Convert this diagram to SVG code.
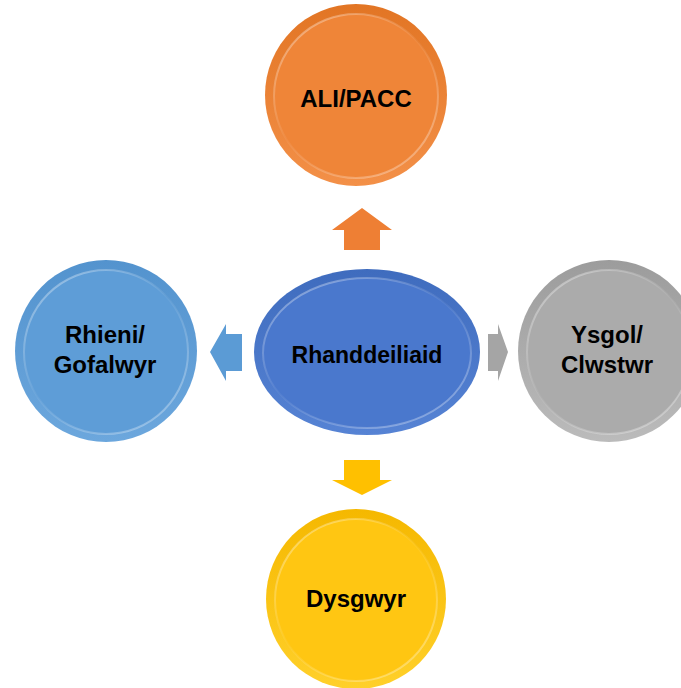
<svg xmlns="http://www.w3.org/2000/svg" width="681" height="688" viewBox="0 0 681 688">
<defs>
<linearGradient id="gO" x1="0" y1="0" x2="0" y2="1"><stop offset="0" stop-color="#E27524"/><stop offset="1" stop-color="#F39048"/></linearGradient>
<linearGradient id="gB" x1="0" y1="0" x2="0" y2="1"><stop offset="0" stop-color="#3F6CBE"/><stop offset="1" stop-color="#5683D4"/></linearGradient>
<linearGradient id="gL" x1="0" y1="0" x2="0" y2="1"><stop offset="0" stop-color="#5393CE"/><stop offset="1" stop-color="#6CA7DD"/></linearGradient>
<linearGradient id="gG" x1="0" y1="0" x2="0" y2="1"><stop offset="0" stop-color="#9C9C9C"/><stop offset="1" stop-color="#BBBBBB"/></linearGradient>
<linearGradient id="gY" x1="0" y1="0" x2="0" y2="1"><stop offset="0" stop-color="#F5B800"/><stop offset="1" stop-color="#FFD02A"/></linearGradient>
<linearGradient id="rim" x1="0" y1="0.2" x2="0.6" y2="1"><stop offset="0" stop-color="#FFFFFF" stop-opacity="0.35"/><stop offset="0.5" stop-color="#FFFFFF" stop-opacity="0.05"/><stop offset="1" stop-color="#FFFFFF" stop-opacity="0.3"/></linearGradient>
</defs>
<style>
.lbl{font-family:"Liberation Sans",Arial,sans-serif;font-weight:bold;font-size:24px;fill:#000;text-anchor:middle}
.rim{fill:none;stroke:url(#rim);stroke-width:2}
</style>
<g id="connectors">
<polygon points="362,208 392,230 380,230 380,250 344,250 344,230 332,230" fill="#EE7F34"/>
<polygon points="362,495 392,480 380,480 380,460 344,460 344,480 332,480" fill="#FFC000"/>
<polygon points="210,352 226,324 226,334 242,334 242,371 226,371 226,381" fill="#5B9BD5"/>
<polygon points="508,352 498,324 498,334 488,334 488,371 498,371 498,381" fill="#A5A5A5"/>
</g>
<g id="node-top">
<circle cx="356" cy="95" r="91" fill="url(#gO)"/>
<circle cx="356" cy="96" r="82" fill="#EF8538"/>
<circle cx="356" cy="96" r="82" class="rim"/>
<text x="356" y="107" class="lbl">ALI/PACC</text>
</g>
<g id="node-center">
<ellipse cx="367" cy="352" rx="113" ry="83" fill="url(#gB)"/>
<ellipse cx="367" cy="353" rx="104" ry="75" fill="#4A78CD"/>
<ellipse cx="367" cy="353" rx="104" ry="75" class="rim"/>
<text x="367" y="363" class="lbl" style="font-size:23px">Rhanddeiliaid</text>
</g>
<g id="node-left">
<circle cx="106" cy="351" r="91" fill="url(#gL)"/>
<circle cx="106" cy="352" r="82" fill="#5E9DD7"/>
<circle cx="106" cy="352" r="82" class="rim"/>
<text x="105" y="343" class="lbl">Rhieni/</text>
<text x="105" y="373" class="lbl">Gofalwyr</text>
</g>
<g id="node-right">
<circle cx="609" cy="351" r="91" fill="url(#gG)"/>
<circle cx="609" cy="352" r="82" fill="#ABABAB"/>
<circle cx="609" cy="352" r="82" class="rim"/>
<text x="607" y="343" class="lbl">Ysgol/</text>
<text x="607" y="373" class="lbl">Clwstwr</text>
</g>
<g id="node-bottom">
<circle cx="356" cy="599" r="90" fill="url(#gY)"/>
<circle cx="356" cy="600" r="81" fill="#FFC612"/>
<circle cx="356" cy="600" r="81" class="rim"/>
<text x="356" y="607" class="lbl">Dysgwyr</text>
</g>
</svg>
